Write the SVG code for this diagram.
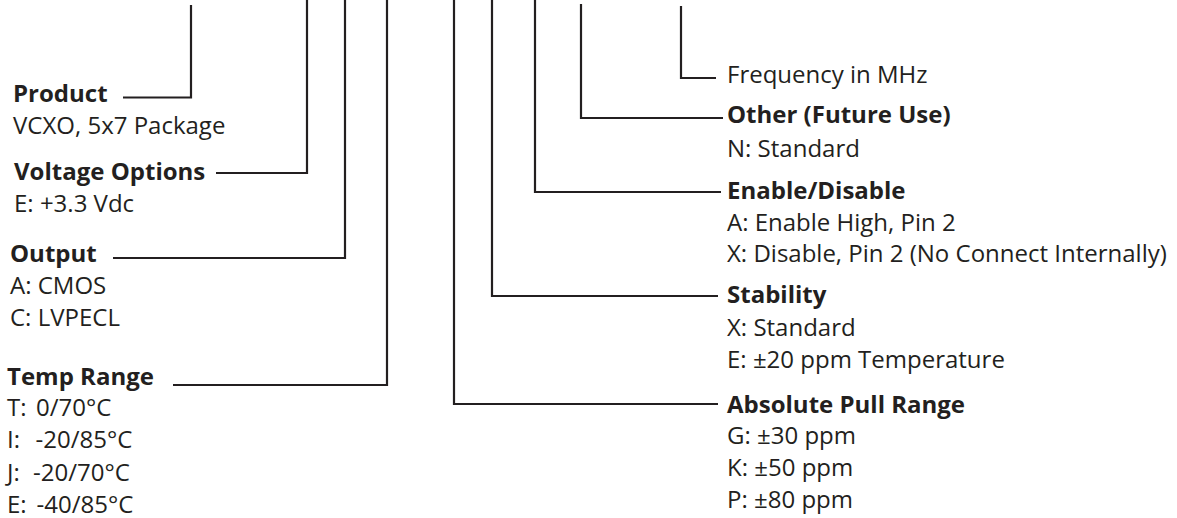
<svg xmlns="http://www.w3.org/2000/svg" width="1177" height="518" viewBox="0 0 1177 518">
<style>
text{font-family:"Open Sans","Noto Sans",sans-serif;font-size:24px;fill:#231f20}
.b{font-weight:700}
.ln{fill:none;stroke:#231f20;stroke-width:2.2;stroke-linejoin:miter}
</style>
<rect width="1177" height="518" fill="#ffffff"/>
<g id="connectors">
<polyline class="ln" points="123,97.5 191,97.5 191,5"/>
<polyline class="ln" points="216,173 307,173 307,0"/>
<polyline class="ln" points="113,258 345,258 345,0"/>
<polyline class="ln" points="173,385 387,385 387,0"/>
<polyline class="ln" points="718,404 454,404 454,0"/>
<polyline class="ln" points="718,296 492,296 492,0"/>
<polyline class="ln" points="721,192 535,192 535,0"/>
<polyline class="ln" points="723,118 581,118 581,4"/>
<polyline class="ln" points="716,78 681,78 681,6"/>
</g>
<g id="product">
<text class="b" x="13" y="102">Product</text>
<text x="13" y="134">VCXO, 5x7 Package</text>
</g>
<g id="voltage">
<text class="b" x="14" y="180">Voltage Options</text>
<text x="14" y="212">E: +3.3 Vdc</text>
</g>
<g id="output">
<text class="b" x="10" y="262">Output</text>
<text x="10" y="293.5">A: CMOS</text>
<text x="10" y="325.5">C: LVPECL</text>
</g>
<g id="temp">
<text class="b" x="7" y="384.5">Temp Range</text>
<text y="416"><tspan x="7">T:</tspan><tspan x="36">0/70°C</tspan></text>
<text y="448"><tspan x="7">I:</tspan><tspan x="35.5">-20/85°C</tspan></text>
<text y="480.5"><tspan x="7">J:</tspan><tspan x="33">-20/70°C</tspan></text>
<text y="512.5"><tspan x="7">E:</tspan><tspan x="36.5">-40/85°C</tspan></text>
</g>
<g id="frequency">
<text x="727" y="83">Frequency in MHz</text>
</g>
<g id="other">
<text class="b" x="727" y="123">Other (Future Use)</text>
<text x="727" y="157">N: Standard</text>
</g>
<g id="enable">
<text class="b" x="727" y="198.5">Enable/Disable</text>
<text x="727" y="231">A: Enable High, Pin 2</text>
<text x="727" y="262">X: Disable, Pin 2 (No Connect Internally)</text>
</g>
<g id="stability">
<text class="b" x="727" y="303">Stability</text>
<text x="727" y="336">X: Standard</text>
<text x="727" y="368">E: ±20 ppm Temperature</text>
</g>
<g id="pull">
<text class="b" x="727" y="412.5">Absolute Pull Range</text>
<text x="727" y="444">G: ±30 ppm</text>
<text x="727" y="476">K: ±50 ppm</text>
<text x="727" y="508">P: ±80 ppm</text>
</g>
</svg>
